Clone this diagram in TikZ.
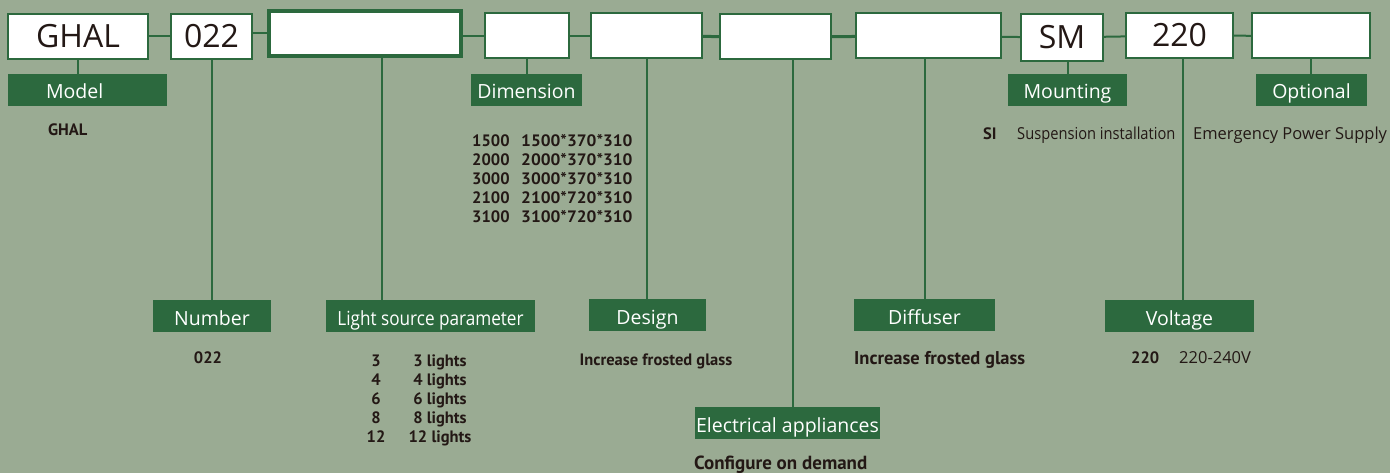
\documentclass[tikz,border=0pt]{standalone}
\usepackage{fontspec}
\setmainfont{Open Sans}
\newfontfamily\narrowfont{PT Sans}
\usepackage{xcolor}
\usepackage{tikz}
\usetikzlibrary{positioning}
\definecolor{sage}{RGB}{154,171,147}
\definecolor{leaf}{RGB}{44,105,62}
\definecolor{ink}{RGB}{35,24,21}

\begin{document}
\begin{tikzpicture}[x=1pt, y=-1pt,
    codebox/.style={draw=leaf, fill=white, line width=2pt, inner sep=0pt, minimum height=45pt, text=ink, font=\fontsize{32}{32}\selectfont},
    tag/.style={fill=leaf, text=white, inner sep=0pt, minimum height=32pt, text height=18pt, text depth=0pt, font=\fontsize{19.5}{20}\selectfont},
    link/.style={draw=leaf, line width=2pt},
    note/.style={inner sep=0pt, text=ink, font=\fontsize{16.5}{17}\selectfont},
    boldnote/.style={inner sep=0pt, text=ink, font=\narrowfont\bfseries\fontsize{16.5}{17}\selectfont}]
    \fill[sage] (0,0) rectangle (1390,473);
    \useasboundingbox (0,0) rectangle (1390,473);

    % code boxes
    \node[codebox, minimum width=140pt] (ghal) at (78,36.5) {GHAL};
    \node[codebox, minimum width=81pt] (num) at (211.5,36.5) {022};
    \node[codebox, minimum width=192pt, line width=4pt] (light) at (365,33.5) {};
    \node[codebox, minimum width=84pt] (dim) at (527,36) {};
    \node[codebox, minimum width=111pt] (design) at (646.5,36) {};
    \node[codebox, minimum width=111pt] (elec) at (775.5,37) {};
    \node[codebox, minimum width=145pt] (diff) at (928.5,36) {};
    \node[codebox, minimum width=82pt, minimum height=47pt] (mount) at (1062,37.5) {SM};
    \node[codebox, minimum width=107pt] (volt) at (1179.5,35.5) {220};
    \node[codebox, minimum width=118pt] (opt) at (1311,36) {};

    \draw[link] (ghal) -- (num);
    \draw[link] (num.east |- light.west) -- (light.west);
    \draw[link] (light.east |- dim.west) -- (dim.west);
    \draw[link] (dim) -- (design);
    \draw[link, line width=3pt] (design) -- (elec);
    \draw[link, line width=3pt] (elec) -- (diff);
    \draw[link] (diff) -- (mount);
    \draw[link] (mount) -- (volt);
    \draw[link] (volt) -- (opt);

    % tags
    \node[tag, text width=83pt, inner xsep=38pt, align=left] (model) at (87.5,90) {Model};
    \node[tag, minimum width=111pt] (dimtag) at (526.5,90) {Dimension};
    \node[tag, minimum width=119pt] (mounttag) at (1067.5,90) {Mounting};
    \node[tag, minimum width=111pt] (opttag) at (1311.5,90) {Optional};
    \node[tag, minimum width=118pt] (numtag) at (212,316) {Number};
    \node[tag, minimum width=209pt] (lighttag) at (430.5,316) {\scalebox{0.88}[1]{Light source parameter}};
    \node[tag, minimum width=117pt] (designtag) at (647.5,315) {Design};
    \node[tag, minimum width=185pt] (electag) at (787.5,423) {Electrical appliances};
    \node[tag, minimum width=141pt] (difftag) at (924.5,315) {Diffuser};
    \node[tag, minimum width=149pt] (volttag) at (1179.5,316) {Voltage};

    \coordinate (lightfoot) at ([xshift=17pt]light.south);
    \coordinate (elecfoot) at ([xshift=17.5pt]elec.south);
    \coordinate (voltfoot) at ([xshift=3.5pt]volt.south);
    \draw[link] (ghal.south) -- (ghal.south |- model.north);
    \draw[link] (num.south) -- (num.south |- numtag.north);
    \draw[link] (lightfoot) -- (lightfoot |- lighttag.north);
    \draw[link] (dim.south) -- (dim.south |- dimtag.north);
    \draw[link] (design.south) -- (design.south |- designtag.north);
    \draw[link] (elecfoot) -- (elecfoot |- electag.north);
    \draw[link] (difftag.north) -- (difftag.north |- diff.south);
    \draw[link] (mounttag.north) -- (mounttag.north |- mount.south);
    \draw[link] (voltfoot) -- (voltfoot |- volttag.north);
    \draw[link] (opt.south) -- (opt.south |- opttag.north);

    % notes
    \node[boldnote, anchor=base west] (modelcode) at (48,135.5) {GHAL};
    \foreach \a/\b [count=\i] in {1500/1500*370*310, 2000/2000*370*310, 3000/3000*370*310, 2100/2100*720*310, 3100/3100*720*310} {
        \node[boldnote, anchor=base west] (dimcode\i) at (472,{147+19*(\i-1)}) {\a};
        \node[boldnote, anchor=base west] (dimsize\i) at (521,{147+19*(\i-1)}) {\scalebox{1.05}[1]{\b}};
    }
    \node[boldnote, anchor=base] (numcode) at (208,363.7) {022};
    \foreach \a [count=\i] in {3,4,6,8,12} {
        \node[boldnote, anchor=base] (lightcode\i) at (376,{366.5+18.9*(\i-1)}) {\a};
        \node[boldnote, anchor=base] (lightnote\i) at (440,{366.5+18.9*(\i-1)}) {\a\ lights};
    }
    \node[boldnote, anchor=base] (designnote) at (656,365) {Increase frosted glass};
    \node[boldnote, anchor=base west, font=\narrowfont\bfseries\fontsize{18.5}{18}\selectfont] (diffnote) at (854,364.3) {Increase frosted glass};
    \node[boldnote, anchor=base west, font=\narrowfont\bfseries\fontsize{19}{19}\selectfont] (elecnote) at (694,469.5) {Configure on demand};
    \node[boldnote, anchor=base west] (sicode) at (983,139.5) {SI};
    \node[note, anchor=base west] (sinote) at (1017,139.5) {\scalebox{0.89}[1]{Suspension installation}};
    \node[note, anchor=base west] (optnote) at (1193,139.5) {Emergency Power Supply};
    \node[boldnote, anchor=base west] (voltcode) at (1131,363.5) {220};
    \node[note, anchor=base west] (voltnote) at (1179,363.5) {220-240V};
\end{tikzpicture}
\end{document}
